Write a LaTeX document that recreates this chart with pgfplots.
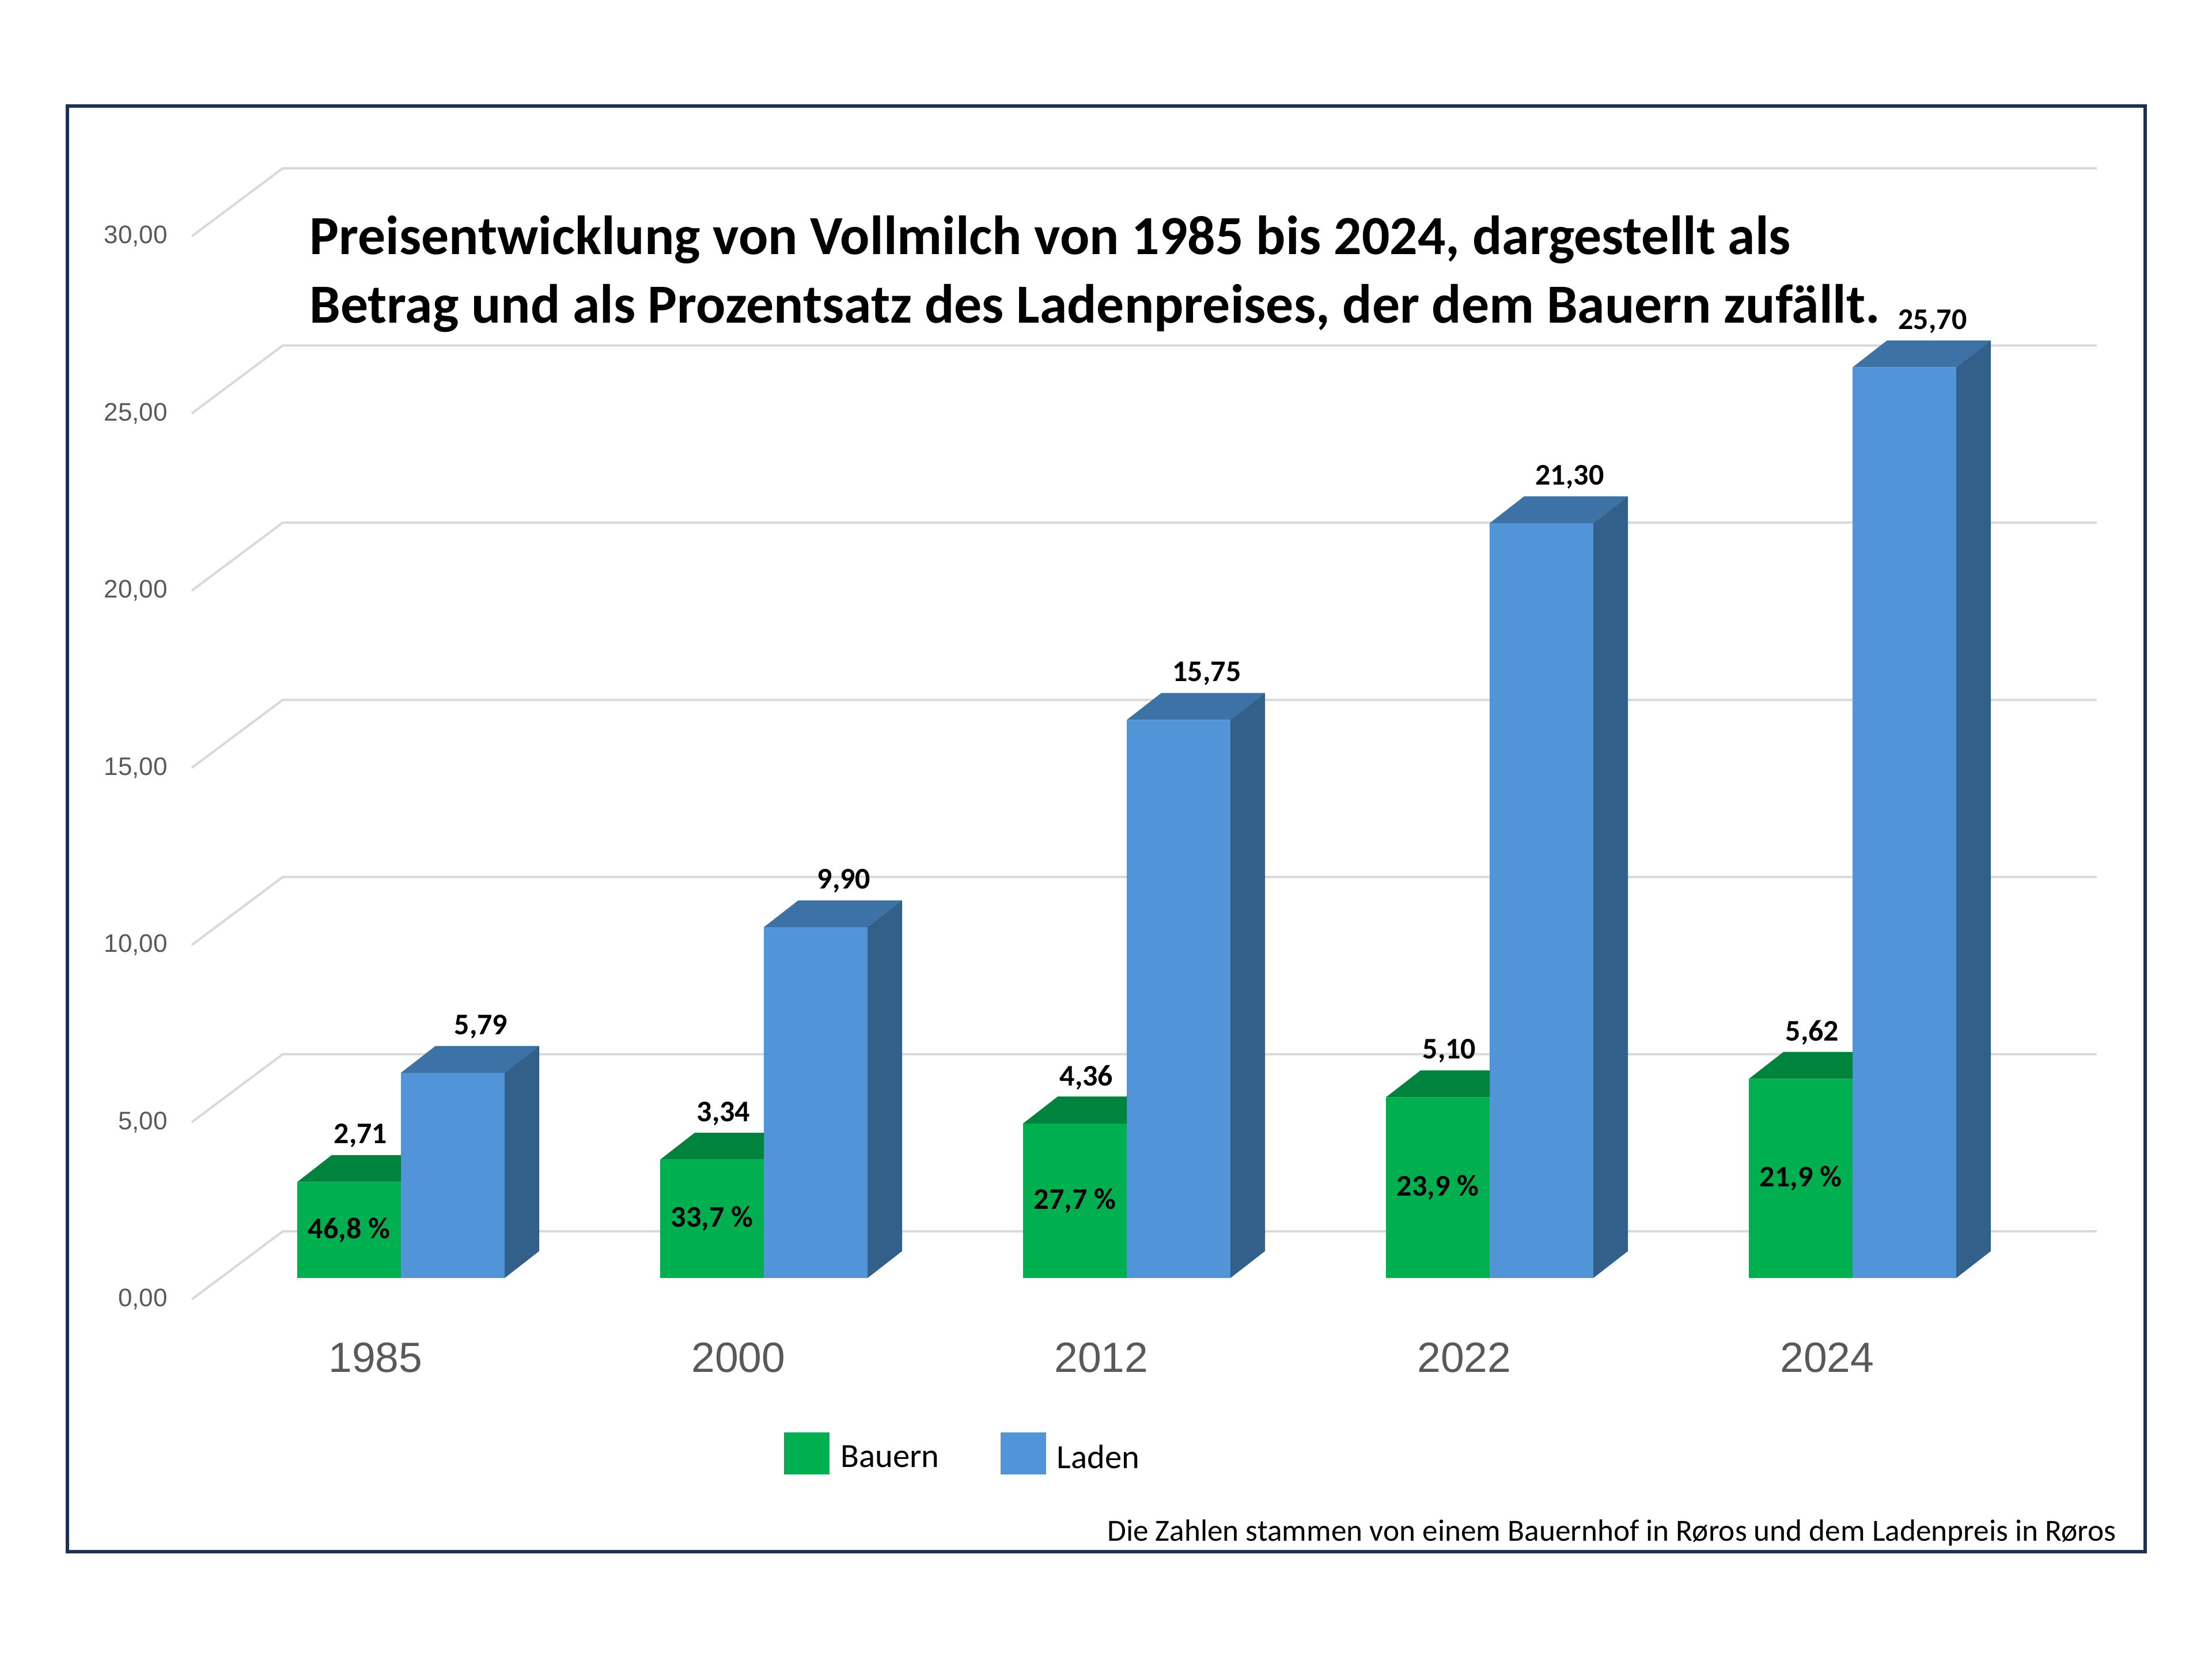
\documentclass[border=0pt]{standalone}
\usepackage{pgfplots}
\pgfplotsset{compat=1.18}
\usepackage{pgfplotstable}
\usepackage{fontspec}
\setmainfont{Carlito}
\newfontfamily\arialfont{Liberation Sans}
\definecolor{greenF}{HTML}{00B050}
\definecolor{greenT}{HTML}{00843D}
\definecolor{blueF}{HTML}{5195D8}
\definecolor{blueT}{HTML}{3C72A6}
\definecolor{blueS}{HTML}{335F8B}
\definecolor{gridc}{HTML}{D9D9D9}
\definecolor{tickc}{HTML}{595959}
\definecolor{framec}{HTML}{1F3153}
\newcommand\lblfont{\bfseries\fontsize{7.8}{9}\selectfont}

\pgfplotstableread{
x y lbl pct
0 2.71 2,71 {46,8 \%}
1 3.34 3,34 {33,7 \%}
2 4.36 4,36 {27,7 \%}
3 5.10 5,10 {23,9 \%}
4 5.62 5,62 {21,9 \%}
}\bauern
\pgfplotstableread{
x y lbl
0 5.79 5,79
1 9.90 9,90
2 15.75 15,75
3 21.30 21,30
4 25.70 25,70
}\laden

% top (and side) faces of a bar; origin = centre of the pair at the bar top
% green: only the part of the top face not hidden by the blue bar
\pgfdeclareplotmark{boxG}{%
  \pgfsetfillcolor{greenT}%
  \pgfpathmoveto{\pgfpoint{-27pt}{0pt}}%
  \pgfpathlineto{\pgfpoint{-18pt}{7pt}}%
  \pgfpathlineto{\pgfpoint{0pt}{7pt}}%
  \pgfpathlineto{\pgfpoint{0pt}{0pt}}%
  \pgfpathclose
  \pgfusepath{fill}%
}
\pgfdeclareplotmark{boxB}{%
  \pgfmathsetlengthmacro\hh{\barval*9.225pt}%
  \pgfsetfillcolor{blueT}%
  \pgfpathmoveto{\pgfpoint{0pt}{0pt}}%
  \pgfpathlineto{\pgfpoint{9pt}{7pt}}%
  \pgfpathlineto{\pgfpoint{36pt}{7pt}}%
  \pgfpathlineto{\pgfpoint{27pt}{0pt}}%
  \pgfpathclose
  \pgfusepath{fill}%
  \pgfsetfillcolor{blueS}%
  \pgfpathmoveto{\pgfpoint{27pt}{0pt}}%
  \pgfpathlineto{\pgfpoint{36pt}{7pt}}%
  \pgfpathlineto{\pgfpoint{36pt}{7pt-\hh}}%
  \pgfpathlineto{\pgfpoint{27pt}{-\hh}}%
  \pgfpathclose
  \pgfusepath{fill}%
}

\begin{document}
\begin{tikzpicture}
\draw[framec, line width=0.9pt] (17.55pt,28.05pt) rectangle (558.6pt,404.4pt);
\begin{axis}[
  at={(47.7pt,99.3pt)}, anchor=south west,
  scale only axis, width=500.85pt, height=276.75pt,
  xmin=-0.6, xmax=4.7, ymin=0, ymax=30,
  clip=false,
  axis line style={draw=none}, tick style={draw=none},
  xtick={0,1,2,3,4}, xticklabels={1985,2000,2012,2022,2024},
  ytick={0,5,10,15,20,25,30},
  yticklabels={{0,00},{5,00},{10,00},{15,00},{20,00},{25,00},{30,00}},
  xticklabel style={font=\arialfont\fontsize{11}{13}\selectfont, text=tickc,
     anchor=center, inner sep=0pt, xshift=-6.6pt, yshift=-20.7pt},
  yticklabel style={font=\arialfont\fontsize{6.6}{8}\selectfont, text=tickc,
     anchor=east, inner sep=0pt, xshift=-3.9pt, yshift=-5.55pt},
  legend style={draw=none, fill=none, at={(0.3121,-0.1653)}, anchor=west,
     legend columns=2, font=\fontsize{8.8}{10}\selectfont, inner sep=0pt,
     nodes={inner sep=0pt, yshift=-1.5pt},
     /tikz/every odd column/.append style={column sep=2.85pt},
     /tikz/every even column/.append style={column sep=15.9pt}},
  legend cell align=left,
]
\pgfplotsinvokeforeach{0,5,10,15,20,25,30}{%
  \draw[gridc, line width=0.6pt]
    ([yshift=-5.55pt]axis cs:-0.5762,#1) -- ([yshift=12.15pt]axis cs:-0.3254,#1)
    -- ([yshift=12.15pt]axis cs:4.6730,#1);
}
\addplot[ybar, bar width=27pt, bar shift=-13.5pt, fill=greenF, draw=none,
  legend image code/.code={\fill[greenF] (0pt,-5.475pt) rectangle (11.85pt,5.475pt);},
  nodes near coords, point meta=explicit symbolic,
  every node near coord/.append style={anchor=center, xshift=-10.5pt, yshift=12pt, font=\lblfont, text=black}]
  table[x=x, y=y, meta=lbl]{\bauern};
\addlegendentry{Bauern}
\addplot[forget plot, scatter, only marks, mark=boxG]
  table[x=x, y=y]{\bauern};
\addplot[ybar, bar width=27pt, bar shift=13.5pt, fill=blueF, draw=none,
  legend image code/.code={\fill[blueF] (0pt,-5.475pt) rectangle (11.85pt,5.475pt);},
  nodes near coords, point meta=explicit symbolic,
  every node near coord/.append style={anchor=center, xshift=20.85pt, yshift=12pt, font=\lblfont, text=black}]
  table[x=x, y=y, meta=lbl]{\laden};
\addlegendentry{Laden}
\addplot[forget plot, scatter, only marks, mark=boxB,
  visualization depends on={\thisrow{y}\as\barval}]
  table[x=x, y=y]{\laden};
\addplot[forget plot, draw=none, mark=none, nodes near coords, point meta=explicit symbolic,
  every node near coord/.append style={anchor=center, xshift=-13.5pt, font=\lblfont, text=black}]
  table[x=x, y expr=\thisrow{y}/2, meta=pct]{\bauern};
\end{axis}
\node[anchor=base west, align=left, inner sep=0pt,
  font=\bfseries\fontsize{14.37}{17.85}\selectfont] at (80.4pt,347.85pt)
  {Preisentwicklung von Vollmilch von 1985 bis 2024, dargestellt als\\
   Betrag und als Prozentsatz des Ladenpreises, der dem Bauern zufällt.};
\node[anchor=base east, inner sep=0pt, font=\fontsize{8}{9.5}\selectfont]
  at (551.25pt,30.9pt) {Die Zahlen stammen von einem Bauernhof in Røros und dem Ladenpreis in Røros};
\path (0,0) rectangle (576pt,432pt);
\end{tikzpicture}
\end{document}
